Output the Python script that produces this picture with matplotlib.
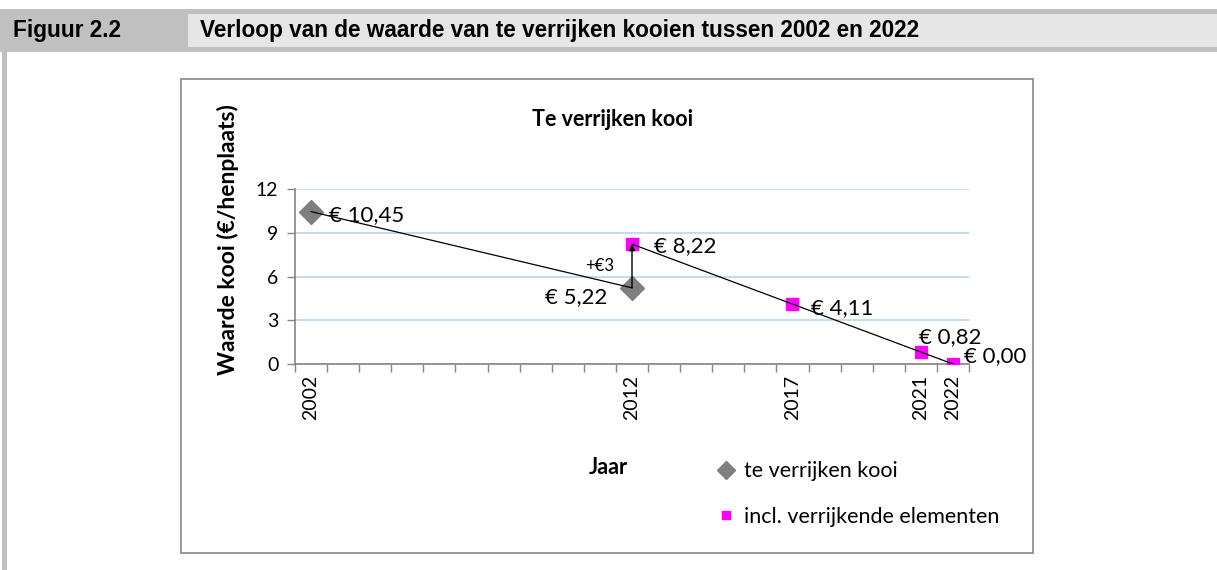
import matplotlib
matplotlib.use('Agg')
import matplotlib.pyplot as plt
from matplotlib.patches import Rectangle
import numpy as np

# data
years_base = [2002, 2012]
values_base = [10.45, 5.22]
labels_base = ['€ 10,45', '€ 5,22']

years_incl = [2012, 2017, 2021, 2022]
values_incl = [8.22, 4.11, 0.82, 0.00]
labels_incl = ['€ 8,22', '€ 4,11', '€ 0,82', '€ 0,00']

tick_years = [2002, 2012, 2017, 2021, 2022]
y_ticks = [0, 3, 6, 9, 12]
year_min, year_max = 2002, 2022
extra_label = '+€3'

W, H = 1217, 570
FONT = ['Lato', 'DejaVu Sans']
HEAD = ['Liberation Sans', 'DejaVu Sans']
plt.rcParams['font.family'] = FONT


def fx(px):
    return px / W


def fy(py):
    return 1 - py / H


def fig_rect(fig, x0, y0, x1, y1, **kw):
    # rectangle in pixel coords (top-left origin)
    r = Rectangle((fx(x0), fy(y1)), fx(x1) - fx(x0), fy(y0) - fy(y1),
                  transform=fig.transFigure, zorder=-5, **kw)
    fig.patches.append(r)
    return r


fig = plt.figure(figsize=(W / 100, H / 100), dpi=100)

# header bar
fig_rect(fig, 0, 9, W, 52, facecolor='#c0c0c0', edgecolor='none')
fig_rect(fig, 188, 14, W, 47, facecolor='#e6e6e6', edgecolor='none')
# left border
fig_rect(fig, 2, 52, 7, H, facecolor='#c0c0c0', edgecolor='none')
# chart frame
fig_rect(fig, 181, 79, 1033, 553, facecolor='white', edgecolor='#878787', linewidth=1.2)

fig.text(fx(13), fy(31), 'Figuur 2.2', family=HEAD, weight='bold',
         fontsize=16.3, ha='left', va='center')
fig.text(fx(200), fy(31), 'Verloop van de waarde van te verrijken kooien tussen 2002 en 2022',
         family=HEAD, weight='bold', fontsize=16.3, ha='left', va='center')

ax = fig.add_axes([fx(295), fy(364), fx(969) - fx(295), fy(189) - fy(364)])
ax.set_facecolor('none')
ax.set_zorder(2)
ax.set_xlim(year_min - 0.5, year_max + 0.5)
ax.set_ylim(0, 12)

# gridlines
ax.set_yticks(y_ticks)
ax.yaxis.grid(True, color='#b8d5f0', linewidth=1.2)
ax.set_axisbelow(True)

for s in ['top', 'right']:
    ax.spines[s].set_visible(False)
for s in ['left', 'bottom']:
    ax.spines[s].set_color('#868686')
    ax.spines[s].set_linewidth(1.2)

ax.set_xticks(tick_years)
ax.set_xticklabels([str(y) for y in tick_years], rotation=90, va='top')
ax.set_xticks(np.arange(year_min - 0.5, year_max + 1), minor=True)
ax.tick_params(axis='x', which='major', length=0, pad=8, labelsize=14)
ax.tick_params(axis='x', which='minor', length=6, width=1, color='#868686')
ax.tick_params(axis='y', which='major', length=6, width=1, color='#868686',
               pad=6, labelsize=14)

# series
ax.plot(years_base, values_base, color='black', linewidth=0.9, zorder=4)
ax.plot(years_incl, values_incl, color='black', linewidth=0.9, zorder=4)
h1, = ax.plot(years_base, values_base, linestyle='none', marker='D', markersize=12,
              color='#7f7f7f', zorder=3, label='te verrijken kooi')
h2, = ax.plot(years_incl, values_incl, linestyle='none', marker='s', markersize=8,
              color='#ff00ff', zorder=3, label='incl. verrijkende elementen')

# arrow for the +3 step
ax.annotate('', xy=(years_incl[0], values_incl[0]), xytext=(years_base[1], values_base[1]),
            arrowprops=dict(arrowstyle='-|>', color='black', lw=1, mutation_scale=9,
                            shrinkA=0, shrinkB=0), zorder=5)
ax.annotate(extra_label, xy=(years_base[1], (values_base[1] + values_incl[0]) / 2),
            xytext=(-32, 0), textcoords='offset pixels', ha='center', va='center',
            fontsize=12)

# data labels (offsets in pixels)
base_off = [(18, -3, 'left'), (-25, -9, 'right')]
for x, y, t, (dx, dy, ha) in zip(years_base, values_base, labels_base, base_off):
    ax.annotate(t, xy=(x, y), xytext=(dx, dy), textcoords='offset pixels',
                ha=ha, va='center', fontsize=16, annotation_clip=False)
incl_off = [(22, -2, 'left'), (19, -4, 'left'), (-2, 15, 'left'), (11, 8, 'left')]
for x, y, t, (dx, dy, ha) in zip(years_incl, values_incl, labels_incl, incl_off):
    ax.annotate(t, xy=(x, y), xytext=(dx, dy), textcoords='offset pixels',
                ha=ha, va='center', fontsize=16, annotation_clip=False)

# titles
fig.text(fx(612), fy(120), 'Te verrijken kooi', weight='bold', fontsize=15.5,
         ha='center', va='center')
fig.text(fx(228), fy(240), 'Waarde kooi (€/henplaats)', weight='bold', fontsize=16.5,
         rotation=90, ha='center', va='center')
fig.text(fx(608), fy(467), 'Jaar', weight='bold', fontsize=15.5, ha='center', va='center')

fig.legend(handles=[h1, h2], loc='center left', bbox_to_anchor=(fx(720), fy(494)),
           frameon=False, fontsize=15.5, handlelength=0.6, handletextpad=0.5,
           labelspacing=1.2, markerscale=0.8, borderaxespad=0, borderpad=0)

fig.savefig('out.png', dpi=100)
